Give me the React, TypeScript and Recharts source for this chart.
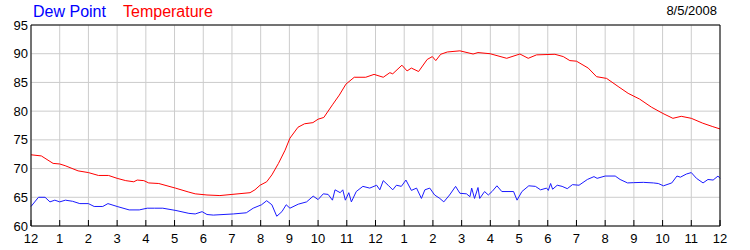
import React from 'react';
import { CartesianGrid, Line, LineChart, XAxis, YAxis } from 'recharts';

// hours since midnight
const tempHours = [
  0, 0.36, 0.77, 1.0, 1.19, 1.64, 2.0, 2.35, 2.7, 3.0, 3.3, 3.58, 3.7, 3.93, 4.1, 4.45, 5.03, 5.5, 5.72, 6.13,
  6.58, 7.0, 7.63, 7.8, 7.98, 8.21, 8.39, 8.62, 8.85, 9.02, 9.3, 9.53, 9.82, 10.0, 10.2, 10.5, 10.74, 10.97, 11.26,
  11.66, 11.95, 12.27, 12.5, 12.6, 12.92, 13.1, 13.25, 13.5, 13.8, 13.98, 14.1, 14.27, 14.5, 14.94, 15.4, 15.57,
  15.99, 16.57, 17.03, 17.32, 17.61, 18.25, 18.54, 18.77, 19.0, 19.41, 19.7, 20.05, 20.45, 20.8, 21.2, 21.61,
  22.01, 22.36, 22.65, 23.0, 23.4, 23.75, 24.0,
];
const tempValues = [
  72.4, 72.2, 70.9, 70.8, 70.5, 69.6, 69.3, 68.8, 68.8, 68.3, 67.9, 67.7, 68.0, 67.9, 67.5, 67.4, 66.6, 65.9, 65.6, 65.4,
  65.3, 65.5, 65.8, 66.3, 67.1, 67.7, 68.9, 70.9, 73.2, 75.3, 77.2, 77.8, 78.0, 78.6, 78.9, 81.1, 82.8, 84.7, 85.9,
  85.9, 86.4, 85.9, 86.7, 86.5, 88.0, 87.0, 87.5, 86.9, 89.0, 89.5, 88.8, 89.9, 90.3, 90.5, 89.95, 90.2,
  90.0, 89.2, 89.95, 89.2, 89.8, 89.9, 89.5, 88.8, 88.7, 87.5, 86.0, 85.7, 84.3, 83.1, 82.1, 80.7,
  79.6, 78.75, 79.1, 78.75, 77.9, 77.3, 76.9,
];

const dewHours = [
  0, 0.26, 0.49, 0.66, 0.83, 1.0, 1.2, 1.45, 1.7, 2.0, 2.2, 2.5, 2.68, 3.0, 3.42, 3.77, 4.05, 4.3, 4.59, 5.05, 5.5,
  5.72, 5.96, 6.13, 6.35, 7.05, 7.5, 7.74, 8.03, 8.21, 8.39, 8.56, 8.74, 8.89, 9.02, 9.31, 9.6, 9.83, 10.0, 10.18,
  10.35, 10.5, 10.59, 10.77, 10.86, 10.95, 11.07, 11.16, 11.33, 11.56, 11.8, 12.04, 12.15, 12.27, 12.44, 12.6,
  12.73, 12.9, 13.06, 13.25, 13.43, 13.6, 13.72, 13.89, 14.06, 14.24, 14.38, 14.58, 14.79, 14.94, 15.17, 15.29,
  15.35, 15.45, 15.57, 15.63, 15.8, 15.93, 16.06, 16.23, 16.4, 16.65, 16.81, 16.93, 17.1, 17.34, 17.57, 17.75,
  17.96, 18.02, 18.1, 18.17, 18.33, 18.5, 18.68, 18.86, 19.09, 19.38, 19.61, 19.72, 20.0, 20.35, 20.52, 20.78,
  20.99, 21.33, 21.68, 21.85, 22.03, 22.32, 22.5, 22.62, 22.83, 23.0, 23.18, 23.41, 23.58, 23.76, 23.93, 24.0,
];
const dewValues = [
  63.4, 65.0, 65.0, 64.2, 64.5, 64.2, 64.5, 64.3, 63.9, 63.9, 63.4, 63.4, 63.9, 63.4, 62.8, 62.8, 63.1, 63.1, 63.1, 62.7, 62.2,
  62.1, 62.5, 62.0, 61.9, 62.1, 62.3, 63.1, 63.7, 64.4, 63.7, 61.7, 62.5, 63.7, 63.1, 63.8, 64.2, 65.2, 64.6, 65.6,
  65.5, 64.5, 66.3, 65.8, 66.3, 64.5, 65.8, 64.2, 66.0, 66.9, 66.6, 67.1, 66.3, 67.9, 67.1, 66.3,
  67.1, 66.9, 68.0, 66.2, 66.6, 64.8, 66.3, 66.6, 65.4, 64.8, 64.2, 65.4, 66.9, 65.7, 65.6, 65.1,
  66.6, 64.8, 66.7, 64.8, 66.0, 65.4, 66.0, 67.0, 66.0, 66.0, 66.0, 64.5, 66.0, 67.0, 66.9, 66.3,
  66.6, 66.2, 67.4, 66.4, 67.1, 66.9, 66.5, 67.2, 67.1, 68.1, 68.6, 68.3, 68.7, 68.7, 68.1, 67.5,
  67.55, 67.6, 67.5, 67.4, 67.0, 67.5, 68.7, 68.5, 69.05, 69.3, 68.3, 67.5, 68.1, 68.0, 68.7, 68.3,
];

const hourTicks = Array.from({ length: 25 }, (_, i) => i);
const tempTicks = [60, 65, 70, 75, 80, 85, 90, 95];
const dateLabel = '8/5/2008';

const font = "'Liberation Sans', Arial, sans-serif";
const tickStyle = { fill: '#000', fontSize: 13, fontFamily: font };

const tempData = tempHours.map((h, i) => ({ h, v: tempValues[i] }));
const dewData = dewHours.map((h, i) => ({ h, v: dewValues[i] }));

const hourLabel = (h: number) => String(h % 12 === 0 ? 12 : h % 12);

const App: React.FC = () => (
  <div style={{ position: 'fixed', left: 0, top: 0, width: 750, height: 250, background: '#fff', fontFamily: font }}>
    <div style={{ position: 'absolute', left: 33, top: 3, fontSize: 16, color: '#0000ff', whiteSpace: 'nowrap' }}>Dew Point</div>
    <div style={{ position: 'absolute', left: 123, top: 3, fontSize: 16, color: '#ff0000', whiteSpace: 'nowrap' }}>Temperature</div>
    <div style={{ position: 'absolute', right: 33, top: 3, fontSize: 13, color: '#000', whiteSpace: 'nowrap' }}>{dateLabel}</div>
    <LineChart width={750} height={250} margin={{ top: 24, right: 0, bottom: 0, left: 0 }}>
      <CartesianGrid stroke="#cccccc" />
      <XAxis
        xAxisId={0}
        dataKey="h"
        type="number"
        domain={[0, 24]}
        ticks={hourTicks}
        tickFormatter={hourLabel}
        interval={0}
        height={24}
        axisLine={{ stroke: '#000' }}
        tickLine={{ stroke: '#000' }}
        tickSize={-6}
        tickMargin={14}
        tick={tickStyle}
      />
      {/* top frame edge with inward ticks */}
      <XAxis
        xAxisId="top"
        orientation="top"
        dataKey="h"
        type="number"
        domain={[0, 24]}
        ticks={hourTicks}
        interval={0}
        height={1}
        axisLine={{ stroke: '#000' }}
        tickLine={{ stroke: '#000' }}
        tickSize={-6}
        tick={false}
      />
      <YAxis
        yAxisId={0}
        type="number"
        domain={[60, 95]}
        ticks={tempTicks}
        interval={0}
        width={31}
        axisLine={{ stroke: '#000' }}
        tickLine={false}
        tickSize={0}
        tickMargin={3}
        tick={tickStyle}
      />
      <YAxis
        yAxisId="r"
        orientation="right"
        type="number"
        domain={[60, 95]}
        ticks={tempTicks}
        interval={0}
        width={30}
        axisLine={{ stroke: '#000' }}
        tickLine={false}
        tickSize={0}
        tickMargin={4}
        tick={tickStyle}
      />
      <Line
        data={dewData}
        dataKey="v"
        type="linear"
        stroke="#1a1aff"
        strokeWidth={1}
        dot={false}
        isAnimationActive={false}
      />
      <Line
        data={tempData}
        dataKey="v"
        type="linear"
        stroke="#ff0000"
        strokeWidth={1}
        dot={false}
        isAnimationActive={false}
      />
    </LineChart>
  </div>
);

export default App;
